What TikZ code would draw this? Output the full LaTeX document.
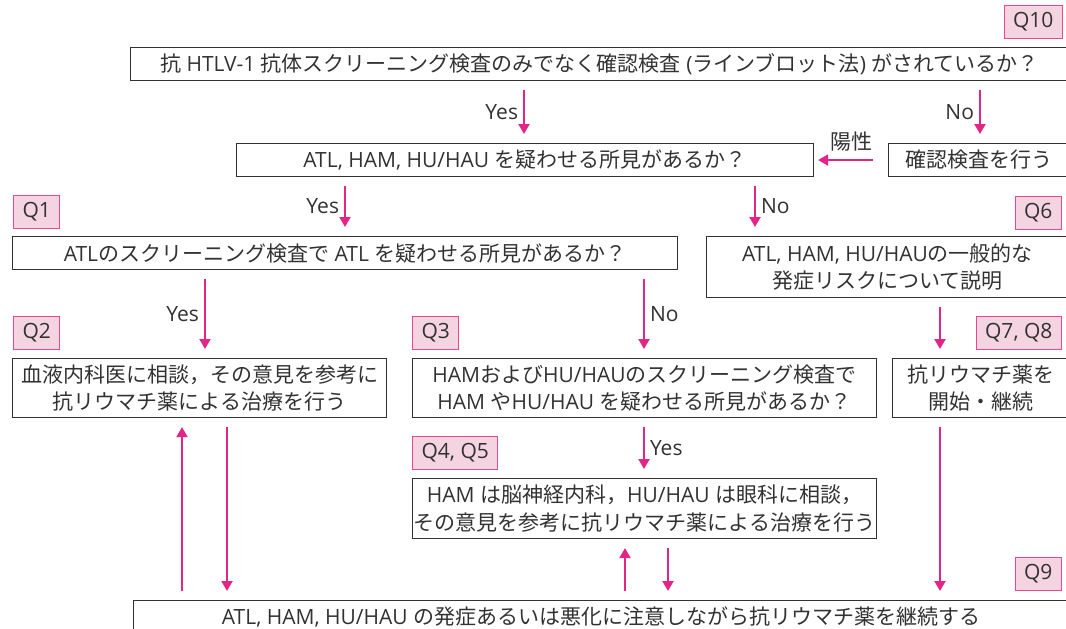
\documentclass[tikz,border=0pt]{standalone}
\usepackage{fontspec}
\setmainfont{Noto Sans CJK JP}
\newfontfamily\enfont{Open Sans}
\newcommand\en[1]{{\enfont #1}}
\usetikzlibrary{arrows.meta,positioning}
\definecolor{pk}{RGB}{226,38,135}
\definecolor{qfill}{RGB}{245,212,226}
\definecolor{qline}{RGB}{229,72,150}
\definecolor{txt}{RGB}{50,50,50}

\begin{document}
\begin{tikzpicture}[x=1pt, y=-1pt,
  box/.style={draw=txt, line width=1.1pt, text=txt, inner sep=0pt, align=center,
    minimum height=33pt, anchor=north west, font=\fontsize{21pt}{27.5pt}\selectfont},
  qtag/.style={draw=qline, fill=qfill, line width=1.1pt, text=txt, inner xsep=9pt,
    inner ysep=0pt, minimum height=33pt, font=\enfont\fontsize{21pt}{24pt}\selectfont},
  arr/.style={draw=pk, line width=2pt, shorten <=9pt, shorten >=9pt,
    -{Triangle[width=11pt,length=10pt]}},
  lbl/.style={text=txt, inner xsep=5pt, font=\enfont\fontsize{21pt}{24pt}\selectfont}]
\useasboundingbox (0,0) rectangle (1066,629);
\clip (0,0) rectangle (1066,629);

\node[box, minimum width=938pt] (top) at (130,47)
  {抗\en{\ HTLV-1\ }抗体スクリーニング検査のみでなく確認検査\en{\ (}ラインブロット法\en{)\ }がされているか？};
\node[box, minimum width=577pt] (chk) at (236,143) {\en{ATL, HAM, HU/HAU\ }を疑わせる所見があるか？};
\node[box, minimum width=180pt] (conf) at (888,143) {確認検査を行う};
\node[box, minimum width=665pt] (atl) at (12,236) {\en{ATL}のスクリーニング検査で\en{\ ATL\ }を疑わせる所見があるか？};
\node[box, minimum width=362pt, minimum height=61pt] (risk) at (706,236)
  {\en{ATL, HAM, HU/HAU}の一般的な\\発症リスクについて説明};
\node[box, minimum width=374pt, minimum height=59pt] (hema) at (12,358)
  {血液内科医に相談，その意見を参考に\\抗リウマチ薬による治療を行う};
\node[box, minimum width=464pt, minimum height=59pt] (ham) at (412,358)
  {\en{HAM}および\en{HU/HAU}のスクリーニング検査で\\\en{HAM\ }や\en{HU/HAU\ }を疑わせる所見があるか？};
\node[box, minimum width=176pt, minimum height=59pt] (start) at (892,358) {抗リウマチ薬を\\開始・継続};
\node[box, minimum width=464pt, minimum height=60pt] (neuro) at (412,478)
  {\en{HAM\ }は脳神経内科，\en{HU/HAU\ }は眼科に相談，\\その意見を参考に抗リウマチ薬による治療を行う};
\node[box, minimum width=935pt] (cont) at (133,600)
  {\en{ATL, HAM, HU/HAU\ }の発症あるいは悪化に注意しながら抗リウマチ薬を継続する};

\node[qtag, anchor=north east] (t10) at (1063,5) {Q10};
\node[qtag, anchor=north west] (t1) at (13,195) {Q1};
\node[qtag, anchor=north east] (t6) at (1062,196) {Q6};
\node[qtag, anchor=north west] (t2) at (13,316) {Q2};
\node[qtag, anchor=north west] (t3) at (412,316) {Q3};
\node[qtag, anchor=north east] (t78) at (1062,316) {Q7, Q8};
\node[qtag, anchor=north west] (t45) at (412,436) {Q4, Q5};
\node[qtag, anchor=north east] (t9) at (1062,557) {Q9};

\draw[arr] (top.south -| 524,0) -- node[lbl, left] {Yes} (chk.north -| 524,0);
\draw[arr] (top.south -| 980,0) -- node[lbl, left] {No} (conf.north -| 980,0);
\draw[arr, shorten <=15pt, shorten >=4pt] (conf.west) -- node[lbl, above=5pt] {\fontspec{Noto Sans CJK JP}陽性} (chk.east);
\draw[arr] (chk.south -| 345,0) -- node[lbl, left] {Yes} (atl.north -| 345,0);
\draw[arr] (chk.south -| 755,0) -- node[lbl, right] {No} (risk.north -| 755,0);
\draw[arr] (atl.south -| 205,0) -- node[lbl, left] {Yes} (hema.north -| 205,0);
\draw[arr] (atl.south -| 644,0) -- node[lbl, right] {No} (ham.north -| 644,0);
\draw[arr] (risk.south -| 940,0) -- (start.north -| 940,0);
\draw[arr] (ham.south -| 644,0) -- node[lbl, right] {Yes} (neuro.north -| 644,0);
\draw[arr] (cont.north -| 182,0) -- (hema.south -| 182,0);
\draw[arr] (hema.south -| 227,0) -- (cont.north -| 227,0);
\draw[arr] (start.south -| 940,0) -- (cont.north -| 940,0);
\draw[arr] (cont.north -| 625,0) -- (neuro.south -| 625,0);
\draw[arr] (neuro.south -| 668,0) -- (cont.north -| 668,0);
\end{tikzpicture}
\end{document}
